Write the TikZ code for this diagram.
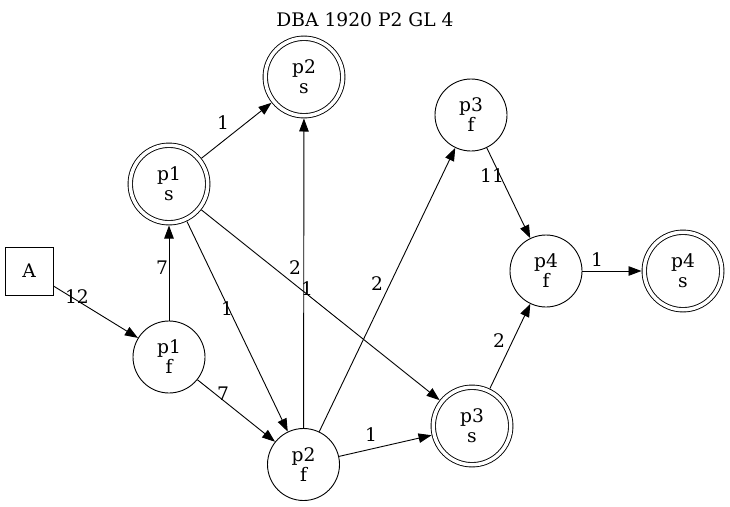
\documentclass[tikz,border=0pt]{standalone}
\usepackage{fontspec}
\setmainfont{DejaVu Serif}
\usetikzlibrary{arrows.meta}
\begin{document}
\begin{tikzpicture}[x=1pt, y=-1pt, line width=0.9pt, >={Triangle[length=13pt,width=9.5pt]},
    font=\fontsize{18.67}{20}\selectfont,
    main/.style = {draw, circle, minimum size=72pt, inner sep=0pt, align=center},
    final/.style = {main, double, double distance=3.5pt, minimum size=77.5pt, outer sep=2.75pt},
    box/.style = {draw, minimum size=48pt, inner sep=0pt},
    lbl/.style = {inner sep=0pt}]
            \useasboundingbox (0,0) rectangle (730,506);
            \node (title) at (365,20) {DBA 1920 P2 GL 4};
            \node[box] (A) at (29,271) {A};
            \node[final] (p1s) at (169,184) {p1\\s};
            \node[main] (p1f) at (169,357) {p1\\f};
            \node[final] (p2s) at (304,77) {p2\\s};
            \node[main] (p2f) at (303.5,464.5) {p2\\f};
            \node[main] (p3f) at (471,115) {p3\\f};
            \node[final] (p3s) at (472,426) {p3\\s};
            \node[main] (p4f) at (546,271) {p4\\f};
            \node[final] (p4s) at (683,271) {p4\\s};
            \draw[->] (A) -- (p1f) node[lbl] at (77,297) {12};
            \draw[->] (p1f) -- (p1s) node[lbl] at (162,268) {7};
            \draw[->] (p1s) -- (p2s) node[lbl] at (223,123) {1};
            \draw[->] (p1s) -- (p2f) node[lbl] at (227,309) {1};
            \draw[->] (p1s) -- (p3s) node[lbl] at (295,268) {2};
            \draw[->] (p1f) -- (p2f) node[lbl] at (223,394) {7};
            \draw[->] (p2f) -- (p2s) node[lbl] at (307,289) {1};
            \draw[->] (p2f) -- (p3f) node[lbl] at (377,284) {2};
            \draw[->] (p2f) -- (p3s) node[lbl] at (371,435) {1};
            \draw[->] (p3f) -- (p4f) node[lbl] at (492,176) {11};
            \draw[->] (p3s) -- (p4f) node[lbl] at (499,341) {2};
            \draw[->] (p4f) -- (p4s) node[lbl] at (597,260) {1};
        \end{tikzpicture}
\end{document}
